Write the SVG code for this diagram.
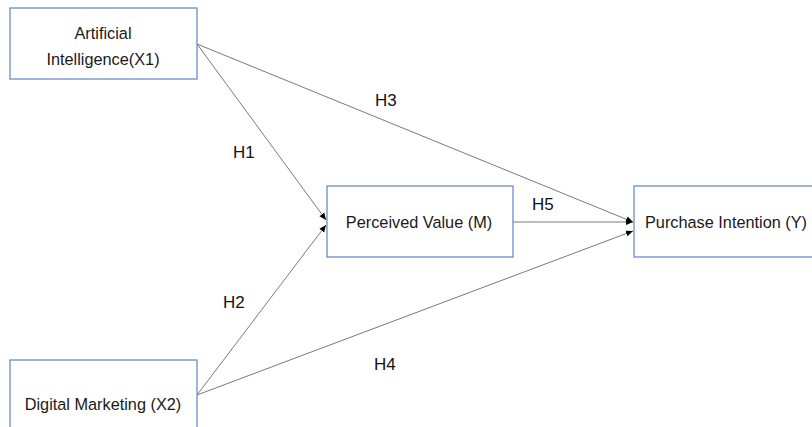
<svg xmlns="http://www.w3.org/2000/svg" width="812" height="427" viewBox="0 0 812 427">
<defs>
<style>
.box{fill:#ffffff;stroke:#6a8cc7;stroke-width:1.3}
.nt{font-family:"Liberation Sans",Arial,sans-serif;font-size:16.3px;fill:#1a1a1a;text-anchor:middle}
.lb{font-family:"Liberation Sans",Arial,sans-serif;font-size:17px;fill:#111111}
.ln{stroke:#7a7a7a;stroke-width:1;fill:none;marker-end:url(#ah)}
</style>
<marker id="ah" markerUnits="userSpaceOnUse" markerWidth="8" markerHeight="8" viewBox="0 0 8 8" refX="7" refY="4" orient="auto">
<path d="M0,1 L7,4 L0,7 Z" fill="#000000"/>
</marker>
</defs>
<rect width="812" height="427" fill="#ffffff"/>
<g id="connectors">
<line class="ln" x1="197" y1="44" x2="326" y2="220"/>
<line class="ln" x1="197" y1="395" x2="326" y2="225"/>
<line class="ln" x1="197" y1="44" x2="633" y2="222"/>
<line class="ln" x1="513" y1="222" x2="633" y2="222"/>
<line class="ln" x1="197" y1="395" x2="633" y2="231"/>
</g>
<g id="labels">
<text class="lb" x="233" y="158">H1</text>
<text class="lb" x="223" y="308">H2</text>
<text class="lb" x="375" y="106">H3</text>
<text class="lb" x="374" y="370">H4</text>
<text class="lb" x="532" y="210">H5</text>
</g>
<g id="node-ai">
<rect class="box" x="10" y="8" width="187" height="71"/>
<text class="nt" x="103" y="39">Artificial</text>
<text class="nt" x="103" y="65">Intelligence(X1)</text>
</g>
<g id="node-dm">
<rect class="box" x="10" y="360" width="187" height="71"/>
<text class="nt" x="103" y="410">Digital Marketing (X2)</text>
</g>
<g id="node-pv">
<rect class="box" x="327" y="186" width="186" height="71"/>
<text class="nt" x="419" y="228">Perceived Value (M)</text>
</g>
<g id="node-pi">
<rect class="box" x="634" y="186" width="187" height="71"/>
<text class="nt" x="726" y="228">Purchase Intention (Y)</text>
</g>
</svg>
